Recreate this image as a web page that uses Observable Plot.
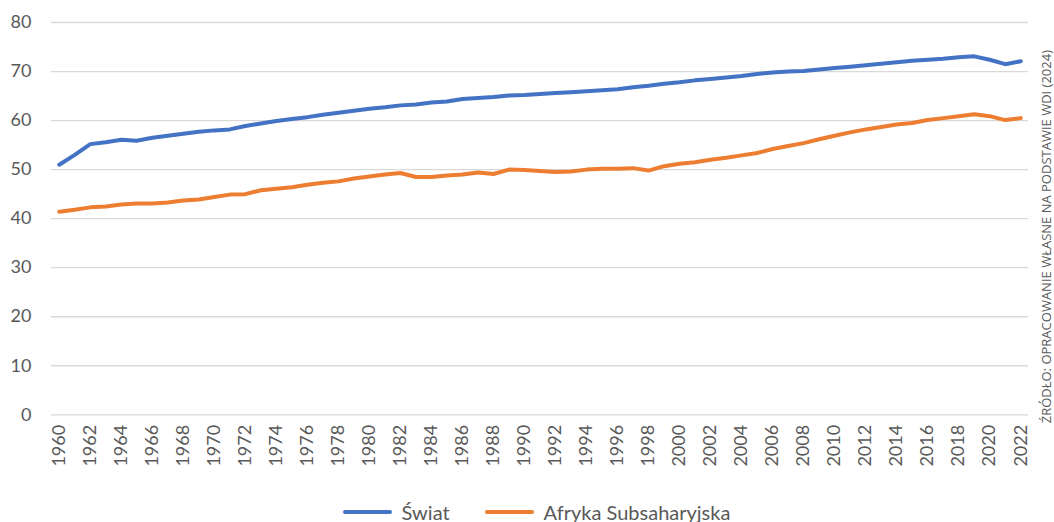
<!DOCTYPE html>
<html>
<head>
<meta charset="utf-8">
<script src="https://cdn.jsdelivr.net/npm/d3@7"></script>
<script src="https://cdn.jsdelivr.net/npm/@observablehq/plot@0.6"></script>
<style>
  html, body { margin: 0; padding: 0; background: #fff; overflow: hidden; }
  body { font-family: Lato, "Noto Sans", sans-serif; }
  #legend { display: flex; justify-content: center; align-items: center; height: 20px; padding-top: 12px; padding-left: 19px; color: #595959; font-size: 20px; font-family: Lato, sans-serif; gap: 35px; }
  .item { display: flex; align-items: center; }
  .sw { display: inline-block; width: 49px; height: 4px; border-radius: 2px; margin-right: 10px; }
</style>
</head>
<body>
<div id="chart"></div>
<div id="legend"></div>
<script>
const years = d3.range(1960, 2023);
const world = [
  51.0, 53.0, 55.2, 55.6, 56.1, 55.9, 56.5, 56.9, 57.3, 57.7,
  58.0, 58.2, 58.9, 59.4, 59.9, 60.3, 60.7, 61.2, 61.6, 62.0,
  62.4, 62.7, 63.1, 63.3, 63.7, 63.9, 64.4, 64.6, 64.8, 65.1,
  65.2, 65.4, 65.6, 65.8, 66.0, 66.2, 66.4, 66.8, 67.1, 67.5,
  67.8, 68.2, 68.5, 68.8, 69.1, 69.5, 69.8, 70.0, 70.1, 70.4,
  70.7, 71.0, 71.3, 71.6, 71.9, 72.2, 72.4, 72.6, 72.9, 73.1,
  72.4, 71.5, 72.1
];
const africa = [
  41.4, 41.8, 42.3, 42.5, 42.9, 43.1, 43.1, 43.3, 43.7, 43.9,
  44.4, 44.9, 45.0, 45.8, 46.1, 46.4, 46.9, 47.3, 47.6, 48.2,
  48.6, 49.0, 49.3, 48.5, 48.5, 48.8, 49.0, 49.4, 49.1, 50.0,
  49.9, 49.7, 49.5, 49.6, 50.0, 50.2, 50.2, 50.3, 49.8, 50.7,
  51.2, 51.5, 52.0, 52.4, 52.9, 53.4, 54.2, 54.8, 55.4, 56.2,
  56.9, 57.6, 58.2, 58.7, 59.2, 59.5, 60.1, 60.5, 60.9, 61.3,
  60.9, 60.1, 60.5
];
const seriesNames = ["Świat", "Afryka Subsaharyjska"];
const seriesColors = ["#4472C4", "#ED7D31"];
const yTicks = [0, 10, 20, 30, 40, 50, 60, 70, 80];
const xTicks = years.filter(y => y % 2 === 0);
const caption = "ŹRÓDŁO: OPRACOWANIE WŁASNE NA PODSTAWIE WDI (2024)";

const data = years.flatMap((yr, i) => [
  {year: yr, value: world[i], series: seriesNames[0]},
  {year: yr, value: africa[i], series: seriesNames[1]}
]);

const plot = Plot.plot({
  width: 1054,
  height: 490,
  marginLeft: 51,
  marginRight: 26,
  marginTop: 22,
  marginBottom: 75.7,
  style: {fontFamily: "Lato, sans-serif", fontSize: "18px", color: "#595959", background: "#fff"},
  x: {type: "point", domain: years, padding: 0.5},
  y: {domain: [0, 80]},
  color: {domain: seriesNames, range: seriesColors},
  marks: [
    Plot.ruleY(yTicks, {stroke: "#d9d9d9", strokeWidth: 1.3}),
    Plot.axisY(yTicks, {tickSize: 0, tickPadding: 20, fontSize: 18, fill: "#595959", label: null, tickFormat: d => String(d)}),
    Plot.axisX(xTicks, {tickSize: 0, tickPadding: 10, tickRotate: -90, fontSize: 18, fill: "#595959", label: null, tickFormat: d => String(d)}),
    Plot.line(data, {x: "year", y: "value", z: "series", stroke: "series", strokeWidth: 4, strokeLinecap: "round", strokeLinejoin: "round"}),
    Plot.text([caption], {frameAnchor: "right", textAnchor: "middle", dx: 18, dy: 18, rotate: -90, fontSize: 13, fontFamily: "'Open Sans', sans-serif", fill: "#595959", text: d => d})
  ]
});
document.getElementById("chart").appendChild(plot);

const legend = document.getElementById("legend");
seriesNames.forEach((name, i) => {
  const item = document.createElement("div");
  item.className = "item";
  const sw = document.createElement("span");
  sw.className = "sw";
  sw.style.background = seriesColors[i];
  const label = document.createElement("span");
  label.textContent = name;
  item.appendChild(sw);
  item.appendChild(label);
  legend.appendChild(item);
});
</script>
</body>
</html>
